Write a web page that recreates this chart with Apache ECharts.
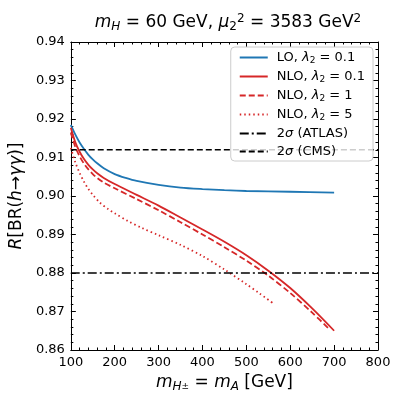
<!DOCTYPE html>
<html>
<head>
<meta charset="utf-8">
<script src="https://cdn.jsdelivr.net/npm/echarts@6/dist/echarts.min.js"></script>
<style>
  html, body { margin: 0; padding: 0; background: #fff; }
  #chart { width: 399px; height: 399px; }
</style>
</head>
<body>
<div id="chart"></div>
<script>
// 数据
const loMass = [100, 110, 120, 130, 140, 150, 160, 175, 200, 225, 250, 300, 350, 400, 450, 500, 600, 700];
const loL01 = [0.9185, 0.9160, 0.9139, 0.9122, 0.9107, 0.9095, 0.9085, 0.9072, 0.9057, 0.9047, 0.9039, 0.9029, 0.9022, 0.9018, 0.9015, 0.9013, 0.9011, 0.9009];

const nloMass1 = [100, 110, 120, 130, 140, 150, 160, 175, 200, 250, 300, 350, 400, 450, 500, 550, 600, 650, 700];
const nloL01 = [0.9177, 0.9140, 0.9115, 0.9096, 0.9081, 0.9069, 0.9059, 0.9047, 0.9031, 0.9003, 0.8975, 0.8944, 0.8913, 0.8881, 0.8846, 0.8806, 0.8761, 0.8708, 0.8650];

const nloMass2 = [100, 110, 120, 130, 140, 150, 160, 175, 200, 250, 300, 350, 400, 450, 500, 550, 600, 650, 690];
const nloL1 = [0.9165, 0.9128, 0.9103, 0.9084, 0.9069, 0.9057, 0.9047, 0.9035, 0.9020, 0.8992, 0.8963, 0.8932, 0.8900, 0.8867, 0.8832, 0.8793, 0.8748, 0.8697, 0.8653];

const nloMass3 = [100, 110, 120, 130, 140, 150, 166, 185, 200, 230, 262, 300, 350, 400, 450, 500, 530, 560];
const nloL5 = [0.9125, 0.9088, 0.9060, 0.9037, 0.9018, 0.9003, 0.8983, 0.8966, 0.8955, 0.8935, 0.8917, 0.8898, 0.8873, 0.8844, 0.8809, 0.8771, 0.8747, 0.8722];

const atlasLimit = 0.88;
const cmsLimit = 0.912;
const xRange = [100, 800];
const yRange = [0.86, 0.94];

const BLUE = '#1f77b4';
const RED = '#d62728';
const FONT = 'DejaVu Sans';

const pair = (xs, ys) => xs.map((x, i) => [x, ys[i]]);

const rich = {
  i: { fontStyle: 'italic', fontFamily: FONT, fontSize: 13, color: '#000' },
  sub: { fontSize: 9, fontFamily: FONT, color: '#000', padding: [6, 0, 0, 0] }
};

const chart = echarts.init(document.getElementById('chart'));

const legendNames = {
  lo: 'LO, {i|λ}{sub|2} = 0.1',
  n1: 'NLO, {i|λ}{sub|2} = 0.1',
  n2: 'NLO, {i|λ}{sub|2} = 1',
  n3: 'NLO, {i|λ}{sub|2} = 5',
  at: '2{i|σ} (ATLAS)',
  cm: '2{i|σ} (CMS)'
};

const lineSeries = (key, data, color, type, width) => ({
  name: key,
  type: 'line',
  data: data,
  smooth: 0.3,
  symbol: 'none',
  lineStyle: { color: color, width: width, type: type },
  itemStyle: { color: color },
  xAxisIndex: 0,
  yAxisIndex: 0,
  z: 3
});

const tickAxisX = (pos, showLabel) => ({
  type: 'value', position: pos, min: xRange[0], max: xRange[1], interval: 100,
  axisLine: { show: true, onZero: false, lineStyle: { color: '#000', width: 1 } },
  axisTick: { show: true, inside: true, length: 5, lineStyle: { color: '#000' } },
  minorTick: { show: true, splitNumber: 5, length: 2.5, lineStyle: { color: '#000' } },
  splitLine: { show: false },
  axisLabel: { show: showLabel, color: '#000', fontSize: 13, fontFamily: FONT, margin: 6 }
});

const tickAxisY = (pos, showLabel) => ({
  type: 'value', position: pos, min: yRange[0], max: yRange[1], interval: 0.01,
  axisLine: { show: true, onZero: false, lineStyle: { color: '#000', width: 1 } },
  axisTick: { show: true, inside: true, length: 5, lineStyle: { color: '#000' } },
  minorTick: { show: true, splitNumber: 5, length: 2.5, lineStyle: { color: '#000' } },
  splitLine: { show: false },
  axisLabel: { show: showLabel, color: '#000', fontSize: 13, fontFamily: FONT, margin: 6,
    formatter: v => v.toFixed(2) }
});

const xMain = tickAxisX('bottom', true);
xMain.name = '{i|m}{isub|H}{sup|±} = {i|m}{isub|A} [GeV]';
xMain.nameLocation = 'middle';
xMain.nameGap = 23;
xMain.nameTextStyle = {
  fontSize: 17, fontFamily: FONT, color: '#000',
  rich: {
    i: { fontStyle: 'italic', fontSize: 17, fontFamily: FONT, color: '#000' },
    isub: { fontStyle: 'italic', fontSize: 12, fontFamily: FONT, color: '#000', padding: [8, 0, 0, 0] },
    sup: { fontSize: 9, fontFamily: FONT, color: '#000', padding: [8, 0, 0, 0] }
  }
};

const yMain = tickAxisY('left', true);
yMain.name = '{i|R}[BR({i|h}→{i|γγ})]';
yMain.nameLocation = 'middle';
yMain.nameGap = 37;
yMain.nameRotate = 90;
yMain.nameTextStyle = {
  fontSize: 17, fontFamily: FONT, color: '#000',
  rich: { i: { fontStyle: 'italic', fontSize: 17, fontFamily: FONT, color: '#000' } }
};

chart.setOption({
  backgroundColor: '#fff',
  animation: false,
  title: {
    text: '{i|m}{isub|H} = 60 GeV, {i|μ}{sub|2}{sup|2} = 3583 GeV{sup|2}',
    left: 223,
    top: 8,
    textAlign: 'center',
    textStyle: {
      fontSize: 17, fontWeight: 'normal', fontFamily: FONT, color: '#000',
      rich: {
        i: { fontStyle: 'italic', fontSize: 17, fontFamily: FONT, color: '#000' },
        isub: { fontStyle: 'italic', fontSize: 12, fontFamily: FONT, color: '#000', padding: [8, 0, 0, 0] },
        sub: { fontSize: 12, fontFamily: FONT, color: '#000', padding: [8, 0, 0, 0] },
        sup: { fontSize: 12, fontFamily: FONT, color: '#000', padding: [0, 0, 8, 0] }
      }
    }
  },
  grid: { left: 68, right: 21, top: 42, bottom: 49, containLabel: false },
  legend: {
    right: 26,
    top: 47,
    orient: 'vertical',
    itemWidth: 28,
    itemHeight: 12,
    itemGap: 5,
    padding: [4, 8, 3, 8],
    backgroundColor: 'rgba(255,255,255,0.8)',
    borderColor: '#cccccc',
    borderWidth: 1,
    borderRadius: 4,
    itemStyle: { opacity: 0 },
    data: ['lo', 'n1', 'n2', 'n3', 'at', 'cm'],
    formatter: name => legendNames[name],
    textStyle: { fontSize: 13, fontFamily: FONT, color: '#000', rich: rich, padding: [0, 0, 0, 4] }
  },
  xAxis: [xMain, tickAxisX('top', false)],
  yAxis: [yMain, tickAxisY('right', false)],
  series: [
    lineSeries('lo', pair(loMass, loL01), BLUE, 'solid', 1.8),
    lineSeries('n1', pair(nloMass1, nloL01), RED, 'solid', 1.8),
    lineSeries('n2', pair(nloMass2, nloL1), RED, [6, 3], 1.8),
    lineSeries('n3', pair(nloMass3, nloL5), RED, [1.5, 3], 1.8),
    lineSeries('at', pair(xRange, [atlasLimit, atlasLimit]), '#000', [9, 3, 2, 3], 1.5),
    lineSeries('cm', pair(xRange, [cmsLimit, cmsLimit]), '#000', [6, 3], 1.5)
  ]
});
</script>
</body>
</html>
